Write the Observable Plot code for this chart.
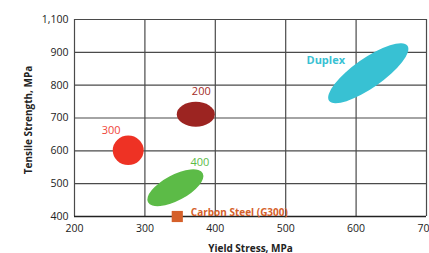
<!DOCTYPE html>
<html><head><meta charset="utf-8">
<script src="https://cdn.jsdelivr.net/npm/d3@7"></script>
<script src="https://cdn.jsdelivr.net/npm/@observablehq/plot@0.6"></script>
<style>
html,body{margin:0;padding:0;background:#fff;}
</style></head><body><div id="chart"></div>
<script>
// ---- data ----
const grades = ["300", "200", "400", "Duplex"];
const yieldMid = [277, 373, 344, 618];        // MPa
const tensileMid = [600, 710, 486, 835];      // MPa
const yieldHalf = [22, 27, 44, 68];           // half-spread along main axis (MPa)
const tensileHalf = [45, 38, 39, 45];         // half-spread along minor axis (MPa)
const carbonGrade = ["Carbon Steel (G300)"];
const carbonYield = [346];
const carbonTensile = [400];
const xTicks = [200, 300, 400, 500, 600, 700];
const yTicks = [400, 500, 600, 700, 800, 900, 1000];
const yTickLabels = ["400", "500", "600", "700", "800", "900", "1,100"];

// ---- styles ----
const fills = ["#ee3224", "#9c2421", "#5cbb47", "#38c1d3"];
const labelColors = ["#f0463a", "#a32b27", "#5cbb47", "#38c1d3"];
const labelWeights = ["normal", "normal", "normal", "bold"];
const tilts = [0, 0, 28, 35];
const labelShift = [[-17.5, -20.7], [5, -23.5], [24, -26], [-43, -13]];
const carbonColor = "#d5602a";
const font = "'Open Sans', sans-serif";

const ellipses = (index, scales) => {
  const g = d3.create("svg:g").attr("aria-label", "ellipses");
  grades.forEach((name, i) => {
    const cx = scales.x(yieldMid[i]), cy = scales.y(tensileMid[i]);
    const rx = scales.x(yieldMid[i] + yieldHalf[i]) - cx;
    const ry = cy - scales.y(tensileMid[i] + tensileHalf[i]);
    g.append("ellipse")
      .attr("transform", `translate(${cx},${cy}) rotate(${-tilts[i]})`)
      .attr("rx", rx).attr("ry", ry)
      .attr("fill", fills[i]);
  });
  return g.node();
};

const labelMarks = grades.map((name, i) =>
  Plot.text([i], {
    x: j => yieldMid[j], y: j => tensileMid[j], text: j => grades[j],
    dx: labelShift[i][0], dy: labelShift[i][1],
    fill: labelColors[i], fontWeight: labelWeights[i], fontSize: 11
  })
);

const chart = Plot.plot({
  width: 429, height: 253,
  marginLeft: 74, marginRight: 3, marginTop: 19, marginBottom: 37,
  style: {fontFamily: font, fontSize: "10.5px", color: "#222", background: "#fff", overflow: "visible"},
  x: {domain: [200, 700]},
  y: {domain: [400, 1000]},
  marks: [
    Plot.gridX(xTicks, {stroke: "#4a4a4a", strokeOpacity: 1, strokeWidth: 1.2}),
    Plot.gridY(yTicks, {stroke: "#4a4a4a", strokeOpacity: 1, strokeWidth: 1.2}),
    Plot.ruleY([400], {stroke: "#222", strokeWidth: 1.4}),
    ellipses,
    Plot.dot(carbonYield, {x: d => d, y: (d, i) => carbonTensile[i], symbol: "square", r: 6.3, fill: carbonColor, stroke: "none"}),
    Plot.text(carbonGrade, {x: (d, i) => carbonYield[i], y: (d, i) => carbonTensile[i], text: d => d, textAnchor: "start", dx: 13.5, dy: -3.5, fill: carbonColor, fontWeight: "bold", fontSize: 10}),
    ...labelMarks,
    Plot.axisX(xTicks, {tickSize: 0, tickPadding: 8, label: null, fontSize: 10.5}),
    Plot.axisY(yTicks, {tickSize: 0, tickPadding: 6, label: null, fontSize: 10.5, tickFormat: d => yTickLabels[yTicks.indexOf(d)]}),
    Plot.text(["Yield Stress, MPa"], {frameAnchor: "bottom", text: d => d, dy: 35, lineAnchor: "bottom", textAnchor: "middle", fontWeight: "bold", fontSize: 10, fill: "#222"}),
    Plot.text(["Tensile Strength, MPa"], {frameAnchor: "left", text: d => d, dx: -43, dy: 2, rotate: -90, lineAnchor: "bottom", textAnchor: "middle", fontWeight: "bold", fontSize: 10, fill: "#222"})
  ]
});
document.getElementById("chart").appendChild(chart);
</script>
</body></html>
